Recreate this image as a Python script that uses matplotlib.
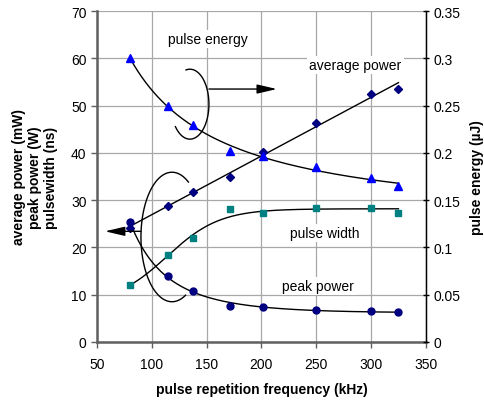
import numpy as np
import matplotlib
matplotlib.use("Agg")
import matplotlib.pyplot as plt
from matplotlib.ticker import FuncFormatter

plt.rcParams['font.family'] = ['Liberation Sans', 'DejaVu Sans']

# --- data ---
freq = [80, 115, 138, 171, 201, 250, 300, 325]            # kHz
avg_power = [24.2, 28.8, 31.7, 34.9, 40.2, 46.4, 52.4, 53.6]   # mW
pulse_width = [12.1, 18.3, 22.0, 28.2, 27.2, 28.3, 28.3, 27.2]  # ns
peak_power = [25.3, 14.0, 10.7, 7.5, 7.4, 6.8, 6.5, 6.3]       # W
pulse_energy = [0.300, 0.250, 0.229, 0.202, 0.197, 0.185, 0.173, 0.165]  # uJ

x = np.array(freq, dtype=float)
xs = np.linspace(x.min(), x.max(), 200)


# trend lines, fitted in 1/x (curves) or x (linear)
def fit_inv(y, deg=2):
    c = np.polyfit(1.0 / x, y, deg)
    return np.polyval(c, 1.0 / xs)


# saturating trend: least squares a + b*sigmoid((x-x0)/s), grid over x0, s
def fit_sat(y, s_min=24):
    y = np.asarray(y, dtype=float)
    best = None
    for x0 in np.linspace(40, 200, 81):
        for s in np.linspace(s_min, 120, 97):
            f = 1 / (1 + np.exp(-(x - x0) / s))
            A = np.column_stack([np.ones_like(x), f])
            coef, *_ = np.linalg.lstsq(A, y, rcond=None)
            err = np.sum((A @ coef - y) ** 2)
            if best is None or err < best[0]:
                best = (err, x0, s, coef)
    _, x0, s, coef = best
    return coef[0] + coef[1] / (1 + np.exp(-(xs - x0) / s))


fig = plt.figure(figsize=(4.85, 4.02), dpi=100)
ax = fig.add_axes([0.2, 0.147, 0.678, 0.823])
ax2 = ax.twinx()

ax.set_xlim(50, 350)
ax.set_ylim(0, 70)
ax2.set_ylim(0, 0.35)

ax.grid(True, color='#a8a8a8', lw=0.9)
ax.set_axisbelow(True)
ax.set_xticks(np.arange(50, 351, 50))
ax.set_yticks(np.arange(0, 71, 10))
ax2.set_yticks(np.arange(0, 0.351, 0.05))
ax2.yaxis.set_major_formatter(FuncFormatter(lambda v, p: '%g' % round(v, 2)))

for s in ['top']:
    ax.spines[s].set_visible(False)
    ax2.spines[s].set_visible(False)
ax.spines['left'].set_color('#606060')
ax.spines['left'].set_linewidth(1.8)
ax.spines['bottom'].set_color('#606060')
ax.spines['bottom'].set_linewidth(1.8)
ax2.spines['left'].set_visible(False)
ax2.spines['bottom'].set_visible(False)
ax2.spines['right'].set_linewidth(1.0)

ax.tick_params(axis='both', labelsize=10, length=4, color='#606060', width=1)
ax.tick_params(axis='x', pad=7)
ax2.tick_params(axis='y', labelsize=10, length=4, direction='inout', width=1)

# trend lines
ax.plot(xs, np.polyval(np.polyfit(x, avg_power, 1), xs), color='black', lw=1)
ax.plot(xs, fit_sat(pulse_width), color='black', lw=1)
ax.plot(xs, fit_inv(peak_power, 2), color='black', lw=1)
ax2.plot(xs, fit_inv(pulse_energy, 2), color='black', lw=1)

# markers
ax.plot(freq, avg_power, 'D', color='#000080', ms=4, ls='none')
ax.plot(freq, pulse_width, 's', color='#008080', ms=4.5, ls='none')
ax.plot(freq, peak_power, 'o', color='#000080', ms=5, ls='none')
ax2.plot(freq, pulse_energy, '^', color='#0000ff', ms=6, ls='none')

ax.set_xlabel('pulse repetition frequency (kHz)', fontsize=10, fontweight='bold', labelpad=8)
ax.set_ylabel('average power (mW)\npeak power (W)\npulsewidth (ns)', fontsize=10,
              fontweight='bold', linespacing=1.2, labelpad=9)
ax2.set_ylabel('pulse energy (\u00b5J)', fontsize=10, fontweight='bold', labelpad=7)

box = dict(facecolor='white', edgecolor='none', pad=1.5)
ax.text(151, 64.1, 'pulse energy', fontsize=10, ha='center', va='center', bbox=box)
ax.text(285.7, 58.6, 'average power', fontsize=10, ha='center', va='center', bbox=box)
ax.text(257.9, 23.0, 'pulse width', fontsize=10, ha='center', va='center', bbox=box)
ax.text(251.5, 11.9, 'peak power', fontsize=10, ha='center', va='center', bbox=box)

# bracket arcs and arrows pointing to each axis
t1 = np.radians(np.linspace(-140, 102, 100))
ax.plot(134.8 + 17.3 * np.cos(t1), 50.3 + 7.4 * np.sin(t1), color='black', lw=1)
t2 = np.radians(np.linspace(58, 296, 100))
ax.plot(118.4 + 28.3 * np.cos(t2), 22.2 + 13.7 * np.sin(t2), color='black', lw=1)

arrow = dict(arrowstyle='-|>,head_length=1.2,head_width=0.28', color='black', lw=1,
             mutation_scale=10, shrinkA=0, shrinkB=0)
ax.annotate('', xy=(214.1, 53.5), xytext=(152.1, 53.5), arrowprops=arrow)
ax.annotate('', xy=(57.3, 23.4), xytext=(90.1, 23.4), arrowprops=arrow, annotation_clip=False)

fig.savefig('out.png', dpi=100)
